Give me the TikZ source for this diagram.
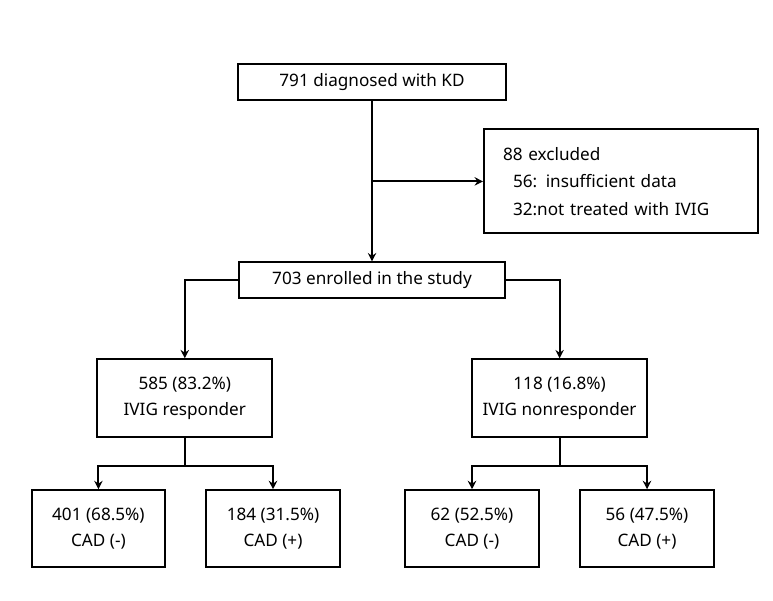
\documentclass[tikz,border=0pt]{standalone}
\usepackage{fontspec}
\setmainfont{Noto Sans}
\usetikzlibrary{calc}
\usetikzlibrary{positioning, arrows.meta}

\begin{document}
\begin{tikzpicture}
        % Define styles for shapes
        \tikzset{
            stage/.style={draw, line width=1.4pt, align=center, minimum height=0.9cm, inner sep=2pt,
                font=\fontsize{12.2}{18.5}\selectfont},
            note/.style={draw, line width=1.4pt, align=left, text width=5.9cm, inner xsep=0.475cm,
                minimum height=2.6cm, font=\fontsize{12.2}{19.5}\selectfont},
            link/.style={line width=1.4pt, -{Stealth[length=6pt, width=6pt, inset=2pt]}}
        }
        \useasboundingbox (0,0) rectangle (19.325,-15);
        % Draw shapes
        \node[stage, minimum width=6.7cm] (diag) at (9.3, -2.06) {791 diagnosed with KD};
        \node[note] (excl) at (15.525, -4.535) {
            88 excluded\\
            \hspace*{0.25cm}56: insufficient data\\
            \hspace*{0.25cm}32:not treated with IVIG
        };
        \node[stage, minimum width=6.65cm] (enrol) at (9.3, -7.01) {703 enrolled in the study};

        \node[stage, minimum width=4.375cm, minimum height=1.935cm] (resp) at (4.62, -9.95) {585 (83.2\%)\\IVIG responder};
        \node[stage, minimum width=4.39cm, minimum height=1.935cm] (nonresp) at (13.99, -9.95) {118 (16.8\%)\\IVIG nonresponder};

        \node[stage, minimum width=3.33cm, minimum height=1.93cm] (resneg) at (2.46, -13.22) {401 (68.5\%)\\CAD (-)};
        \node[stage, minimum width=3.35cm, minimum height=1.93cm] (respos) at (6.825, -13.22) {184 (31.5\%)\\CAD (+)};
        \node[stage, minimum width=3.35cm, minimum height=1.93cm] (nonneg) at (11.8, -13.22) {62 (52.5\%)\\CAD (-)};
        \node[stage, minimum width=3.35cm, minimum height=1.93cm] (nonpos) at (16.175, -13.22) {56 (47.5\%)\\CAD (+)};

        % Draw arrows
        \draw[link] (diag) -- (enrol);
        \coordinate (split) at (diag.south |- excl.west);
        \draw[link] (split) -- (excl.west);
        \draw[link] (enrol.west) -| (resp.north);
        \draw[link] (enrol.east) -| (nonresp.north);
        % Additional arrows
        \draw[link] (resp.south) -- ++(0,-0.7) -| (resneg.north);
        \draw[link] (resp.south) -- ++(0,-0.7) -| (respos.north);
        \draw[link] (nonresp.south) -- ++(0,-0.7) -| (nonneg.north);
        \draw[link] (nonresp.south) -- ++(0,-0.7) -| (nonpos.north);
    \end{tikzpicture}
\end{document}
